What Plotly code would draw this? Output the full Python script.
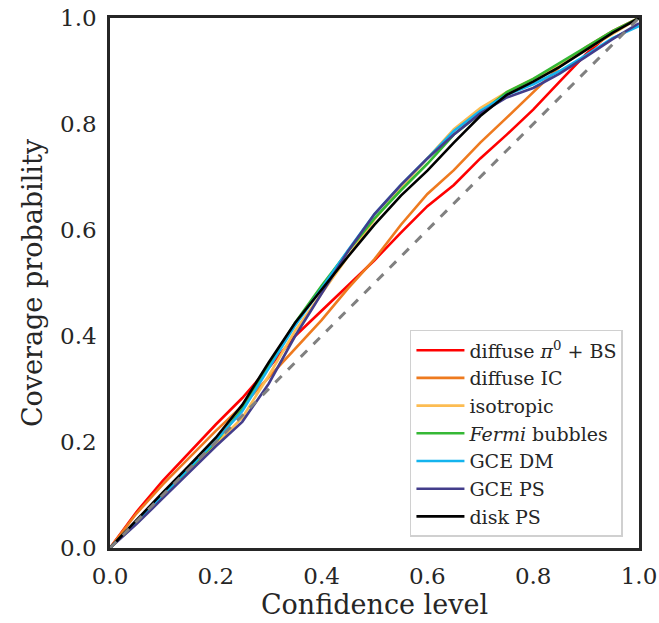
import plotly.graph_objects as go

conf = [0.0, 0.05, 0.1, 0.15, 0.2, 0.25, 0.3, 0.35, 0.4, 0.45, 0.5,
        0.55, 0.6, 0.65, 0.7, 0.75, 0.8, 0.85, 0.9, 0.95, 1.0]

diffuse_pi0_bs = [0, .068, .127, .18, .233, .283, .34, .40, .448, .496, .543,
                  .595, .645, .685, .735, .78, .827, .88, .932, .975, 1.0]
diffuse_ic = [0, .065, .12, .17, .221, .268, .322, .378, .43, .49, .545,
              .61, .668, .713, .765, .812, .86, .908, .945, .975, 1.0]
isotropic = [0, .047, .096, .146, .195, .246, .325, .41, .48, .55, .62,
             .68, .735, .79, .83, .86, .885, .91, .94, .97, 1.0]
fermi_bubbles = [0, .05, .10, .15, .20, .262, .345, .425, .495, .56, .622,
                 .675, .725, .78, .82, .86, .885, .915, .945, .975, 1.0]
gce_dm = [0, .048, .10, .152, .203, .258, .34, .42, .49, .562, .63,
          .685, .735, .787, .825, .855, .875, .90, .93, .962, .985]
gce_ps = [0, .045, .094, .143, .192, .238, .31, .40, .48, .56, .63,
          .685, .735, .78, .82, .85, .868, .895, .927, .96, .99]
disk_ps = [0, .053, .105, .156, .208, .27, .35, .425, .488, .55, .61,
           .665, .712, .765, .815, .855, .88, .908, .94, .972, 1.0]

names = ["diffuse <i>π</i><sup>0</sup> + BS", "diffuse IC", "isotropic",
         "<i>Fermi</i> bubbles", "GCE DM", "GCE PS", "disk PS"]
series = [diffuse_pi0_bs, diffuse_ic, isotropic, fermi_bubbles, gce_dm, gce_ps, disk_ps]
colors = ["#ff0000", "#ee7a1f", "#fcbc52", "#35b835", "#14b4ee", "#433d8b", "#000000"]

diag = [0.0, 1.0]

fig = go.Figure()
for i, (nm, ys, col) in enumerate(zip(names, series, colors)):
    fig.add_trace(go.Scatter(x=conf, y=ys, mode="lines", name=nm,
                             legendgroup=f"g{i}",
                             line=dict(color=col, width=2.6)))
fig.add_trace(go.Scatter(x=diag, y=diag, mode="lines", showlegend=False,
                         line=dict(color="#808080", width=3, dash="dash")))

axis_common = dict(range=[0, 1], showgrid=False, zeroline=False, automargin=False,
                   showline=True, linecolor="#262626", linewidth=2.5, mirror=True,
                   ticks="", tickvals=[0, 0.2, 0.4, 0.6, 0.8, 1.0],
                   ticktext=["0.0", "0.2", "0.4", "0.6", "0.8", "1.0"],
                   tickfont=dict(size=23, color="#262626"),
                   title_font=dict(size=27, color="#262626"))

fig.update_layout(
    width=659, height=623,
    margin=dict(l=110, r=20, t=18, b=75),
    paper_bgcolor="white", plot_bgcolor="white",
    font=dict(family="DejaVu Serif", color="#262626"),
    xaxis=dict(title=dict(text="Confidence level", standoff=4),
               ticklabelstandoff=6, **axis_common),
    yaxis=dict(title=dict(text="Coverage probability", standoff=10),
               ticklabelstandoff=6, **axis_common),
    legend=dict(x=0.567, y=0.021, xanchor="left", yanchor="bottom",
                bgcolor="white", bordercolor="#d0d0d0", borderwidth=1.5,
                font=dict(size=19, color="#262626"), tracegroupgap=0,
                itemwidth=48),
    showlegend=True,
)

fig.write_html("out.html")
